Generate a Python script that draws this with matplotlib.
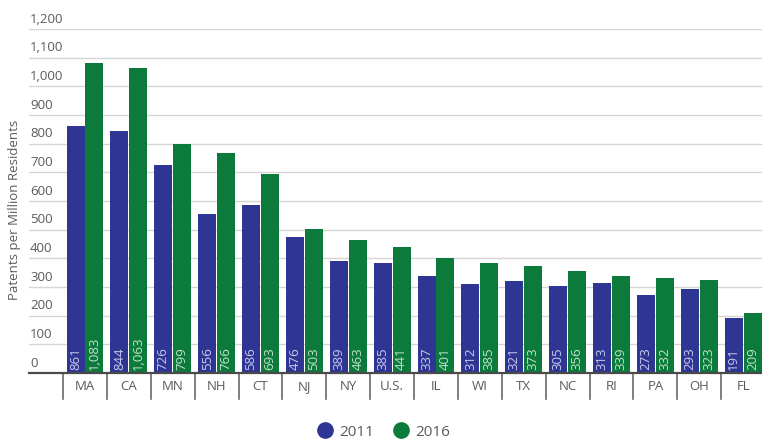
import matplotlib

matplotlib.use("Agg")
import matplotlib.pyplot as plt
from matplotlib.lines import Line2D
import numpy as np

states = ["MA", "CA", "MN", "NH", "CT", "NJ", "NY", "U.S.",
          "IL", "WI", "TX", "NC", "RI", "PA", "OH", "FL"]
vals_2011 = [861, 844, 726, 556, 586, 476, 389, 385, 337, 312, 321, 305, 313, 273, 293, 191]
vals_2016 = [1083, 1063, 799, 766, 693, 503, 463, 441, 401, 385, 373, 356, 339, 332, 323, 209]
yticks = [0, 100, 200, 300, 400, 500, 600, 700, 800, 900, 1000, 1100, 1200]

BLUE = "#2e3592"
GREEN = "#0b7a3b"
GRAY = "#5a5a5a"

plt.rcParams["font.family"] = ["Open Sans", "DejaVu Sans"]

W, H = 762, 443
fig = plt.figure(figsize=(W / 100, H / 100), dpi=100)
ax = fig.add_axes([29 / W, 1 - 373 / H, 1 - 29 / W, (373 - 29) / H])

x = np.arange(len(states))
bw = 0.41
off = 0.215
ax.bar(x - off, vals_2011, bw, color=BLUE, zorder=3)
ax.bar(x + off, vals_2016, bw, color=GREEN, zorder=3)

for xi, v in zip(x, vals_2011):
    ax.text(xi - off, 12, f"{v:,}", rotation=90, ha="center", va="bottom",
            color="#c8caee", fontsize=9.5, zorder=4)
for xi, v in zip(x, vals_2016):
    ax.text(xi + off, 12, f"{v:,}", rotation=90, ha="center", va="bottom",
            color="#bfe2c8", fontsize=9.5, zorder=4)

ax.set_ylim(0, 1200)
ax.set_xlim(-1.277, 15.43)

# gridlines with labels sitting on top of them
for t in yticks[1:]:
    ax.axhline(t, color="#d6d6d6", lw=1.0, zorder=1)
for t in yticks:
    ax.text(0.0015, t + 12, f"{t:,}", transform=ax.get_yaxis_transform(),
            ha="left", va="bottom", fontsize=9.5, color=GRAY)
ax.axhline(0, color="#4a4a4a", lw=1.6, zorder=5, clip_on=False)

# category boxes
trans = ax.get_xaxis_transform()
for i in range(len(states) + 1):
    ax.plot([i - 0.5, i - 0.5], [0, -26 / 344], color="#6a6a6a", lw=1.2,
            transform=trans, clip_on=False)
for xi, s in zip(x, states):
    ax.text(xi, -14 / 344, s, transform=trans, ha="center", va="center",
            fontsize=9.5, color=GRAY)

for sp in ax.spines.values():
    sp.set_visible(False)
ax.set_xticks([])
ax.set_yticks([])

fig.text(15 / W, 1 - 210 / H, "Patents per Million Residents", rotation=90,
         ha="center", va="center", fontsize=9.5, color=GRAY)

handles = [
    Line2D([], [], marker="o", ls="none", color=BLUE, markersize=11),
    Line2D([], [], marker="o", ls="none", color=GREEN, markersize=11),
]
fig.legend(handles, ["2011", "2016"], loc="center", bbox_to_anchor=(383 / W, 1 - 432 / H),
           ncol=2, frameon=False, fontsize=11, labelcolor=GRAY,
           handletextpad=0.3, columnspacing=1.2, handlelength=1.2)

fig.savefig("out.png", dpi=100)
